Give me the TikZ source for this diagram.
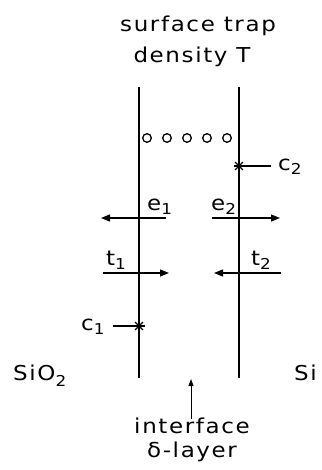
\documentclass[tikz,border=0pt]{standalone}
\usepackage{fontspec}
\setmainfont{DejaVu Sans}
\newfontfamily\lettering[FakeStretch=1.12,LetterSpace=8]{DejaVu Sans}
\usetikzlibrary{arrows.meta}
\newcommand{\sub}[2][4pt]{\raisebox{-#1}{\fontsize{15}{15}\selectfont #2}}

\begin{document}
\begin{tikzpicture}[x=1pt,y=-1pt,
    layer/.style={line width=1.8pt},
    flux/.style={line width=1.4pt,-{Triangle[length=9pt,width=7pt]}},
    lead/.style={line width=1.1pt},
    lbl/.style={font=\lettering\fontsize{20.5}{24}\selectfont, inner sep=0pt, anchor=base}]
    \useasboundingbox (0,0) rectangle (321,470);
    % the two boundaries of the layer
    \coordinate (L1) at (139,87);
    \coordinate (L2) at (139,378);
    \coordinate (R1) at (239,87);
    \coordinate (R2) at (239,378);
    \draw[layer] (L1) -- (L2);
    \draw[layer] (R1) -- (R2);
    % trap states
    \foreach \x in {147,167,187,207,227} {\draw[line width=1.3pt] (\x,138) circle (4.3pt);}
    % capture centres
    \coordinate (C1) at (139,326);
    \coordinate (C2) at (239,166);
    \foreach \p in {C1,C2} {
        \foreach \a in {0,45,90,135} {\draw[line width=1.2pt, shift={(\p)}] (\a:5.5pt) -- (\a+180:5.5pt);}
    }
    % emission and trapping
    \coordinate (e1s) at (166,218);
    \coordinate (e1e) at (101,218);
    \coordinate (e2s) at (212,218);
    \coordinate (e2e) at (280,218);
    \coordinate (t1s) at (103,273);
    \coordinate (t1e) at (169,273);
    \coordinate (t2s) at (281,273);
    \coordinate (t2e) at (214,273);
    \draw[flux] (e1s) -- (e1e);
    \draw[flux] (e2s) -- (e2e);
    \draw[flux] (t1s) -- (t1e);
    \draw[flux] (t2s) -- (t2e);
    % labels
    \node[lbl] (surf) at (198,32) {surface trap};
    \node[lbl] (dens) at (192,63) {density T};
    \node[lbl, anchor=base west] (e1) at (147,210) {e\sub{1}};
    \node[lbl, anchor=base west] (e2) at (211,210) {e\sub{2}};
    \node[lbl, anchor=base west] (t1) at (106,265) {t\sub{1}};
    \node[lbl, anchor=base west] (t2) at (251,265) {t\sub{2}};
    \node[lbl, anchor=base west] (c1) at (81,330) {c\sub{1}};
    \node[lbl, anchor=base west] (c2) at (278,171) {c\sub{2}};
    \node[lbl, anchor=base west] (sio) at (13,380) {SiO\sub[6pt]{2}};
    \node[lbl, anchor=base west] (si) at (294,380) {Si};
    \node[lbl] (intf) at (192,433) {interface};
    \node[lbl] (dlay) at (192,457) {δ-layer};
    \draw[lead] (C1) -- ([xshift=8pt]c1.east |- C1);
    \draw[lead] (C2) -- ([xshift=-7pt]c2.west |- C2);
    \coordinate (up) at (191,379);
    \draw[line width=1pt,-{Triangle[length=7pt,width=5pt]}] ([yshift=-2pt]intf.north -| up) -- (up);
\end{tikzpicture}
\end{document}
